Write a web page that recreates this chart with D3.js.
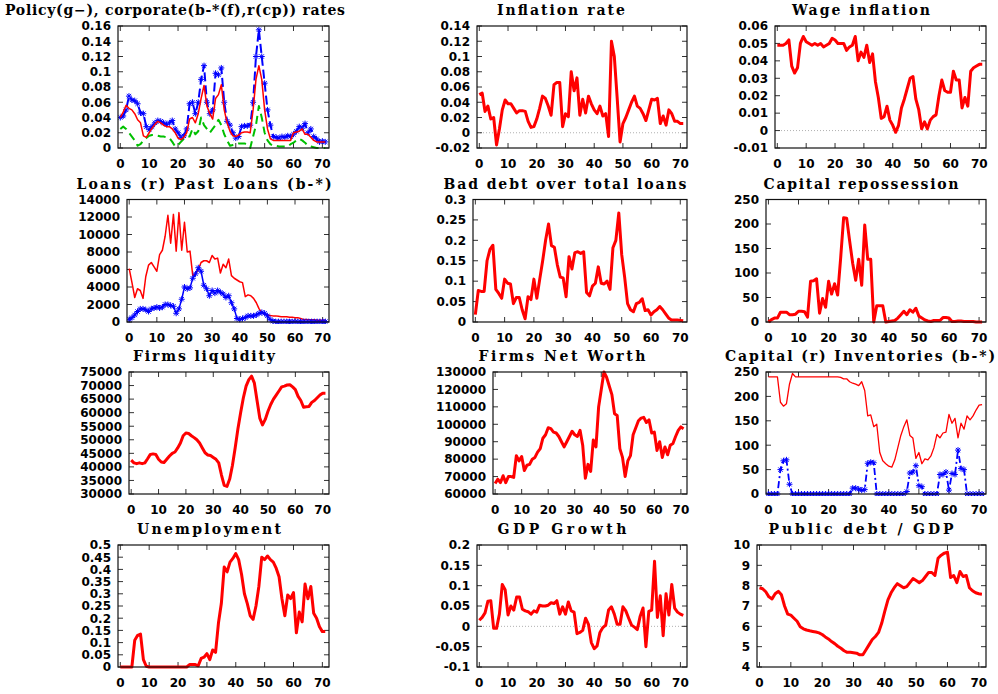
<!DOCTYPE html>
<html>
<head>
<meta charset="utf-8">
<script src="https://cdn.jsdelivr.net/npm/d3@7"></script>
<style>
  body { margin: 0; background: #fff; }
  svg { display: block; }
</style>
</head>
<body>
<div id="chart"></div>
<script>
// time steps 0..71
const steps = d3.range(72);

// panel 1: interest rates
const policyRate = [0.025,0.028,0.025,0.02,0.015,0.01,0.003,0.005,0.01,0.013,
  0.016,0.017,0.017,0.016,0.015,0.015,0.014,0.013,0.008,0.002,
  0.004,0.008,0.012,0.015,0.015,0.025,0.018,0.022,0.04,0.03,
  0.025,0.02,0.025,0.03,0.037,0.03,0.018,0.01,0.003,0.004,
  0.005,0.006,0.006,0.006,0.005,0,0.015,0.03,0.055,0.04,
  0.02,0.01,0.005,0.003,0.003,0.002,0.002,0.002,0.002,0.005,
  0.007,0.01,0.012,0.01,0.007,0.003,0.002,0.001,0,0,0,0];
const corporateRate = [0.04,0.042,0.05,0.068,0.063,0.062,0.058,0.046,0.045,0.028,
  0.024,0.028,0.033,0.036,0.035,0.033,0.031,0.033,0.036,0.025,
  0.02,0.014,0.016,0.025,0.058,0.06,0.045,0.06,0.09,0.108,
  0.06,0.045,0.05,0.098,0.096,0.105,0.06,0.035,0.03,0.02,
  0.013,0.015,0.028,0.029,0.029,0.03,0.06,0.12,0.155,0.12,
  0.085,0.05,0.03,0.015,0.014,0.013,0.015,0.014,0.016,0.015,
  0.018,0.022,0.028,0.026,0.032,0.02,0.025,0.015,0.012,0.008,0.009,0.008];
const cpRate = [0.04,0.047,0.056,0.052,0.05,0.045,0.037,0.033,0.016,0.014,
  0.02,0.026,0.031,0.035,0.033,0.03,0.028,0.028,0.025,0.02,
  0.013,0.011,0.014,0.02,0.038,0.04,0.033,0.045,0.065,0.082,
  0.055,0.045,0.038,0.065,0.07,0.083,0.05,0.033,0.022,0.016,
  0.015,0.017,0.02,0.021,0.021,0.02,0.05,0.09,0.108,0.09,
  0.05,0.025,0.012,0.01,0.01,0.01,0.01,0.01,0.01,0.01,
  0.02,0.021,0.022,0.025,0.018,0.018,0.014,0.01,0.008,0.008,0.008,0.008];

const inflation = [0.05,0.052,0.028,0.035,0.018,0.02,-0.016,0.005,0.03,0.043,
  0.038,0.038,0.032,0.026,0.029,0.029,0.028,0.015,0.007,0.008,
  0.018,0.032,0.048,0.045,0.035,0.023,0.063,0.066,0.066,0.008,
  0.025,0.021,0.08,0.055,0.072,0.023,0.044,0.026,0.048,0.038,
  0.03,0.025,0.035,0.022,0.025,-0.005,0.12,0.1,0.045,-0.012,
  0.012,0.02,0.03,0.04,0.048,0.035,0.032,0.025,0.016,0.03,
  0.044,0.043,0.045,0.012,0.022,0.01,0.03,0.025,0.015,0.015,0.012,0.012];

const wageInflation = [0.049,0.049,0.049,0.05,0.052,0.037,0.033,0.036,0.05,0.054,
  0.051,0.05,0.049,0.05,0.049,0.05,0.048,0.049,0.05,0.053,
  0.052,0.05,0.05,0.05,0.046,0.048,0.049,0.054,0.04,0.045,
  0.042,0.049,0.039,0.044,0.028,0.019,0.007,0.008,0.014,0.006,
  0.003,-0.001,0.003,0.013,0.018,0.024,0.03,0.031,0.018,0.012,
  0.001,0.005,0.001,0.006,0.008,0.009,0.02,0.029,0.023,0.022,
  0.022,0.034,0.029,0.029,0.013,0.019,0.014,0.034,0.036,0.037,0.038,0.038];

const loans = [6100,4500,2800,3800,3600,2700,5200,6500,6800,6300,
  5800,7700,8200,9800,12200,9000,12300,8100,12500,8200,
  11400,8000,8100,5300,5500,6000,6800,7000,7000,6800,
  7600,7200,7300,5600,6600,6200,7200,5300,5000,4800,
  4600,4500,2900,3100,3000,2700,2200,1500,1100,900,
  800,750,700,700,650,600,600,600,550,550,
  500,500,400,300,300,250,250,250,200,200,200,200];
const pastLoans = [300,500,800,1200,1500,1500,1400,1200,1500,1600,
  1700,1600,1700,2000,2000,1900,1800,1000,1500,2600,
  4000,3800,3900,5000,5500,6200,5800,4200,3800,3000,
  3600,3300,3600,3400,3200,2800,3000,2200,1500,400,
  300,400,500,700,700,700,800,1000,1100,1000,
  700,300,100,40,40,40,40,40,40,40,
  40,40,40,40,40,40,40,40,40,40,40,40];

const badDebt = [0.018,0.077,0.075,0.075,0.15,0.178,0.188,0.08,0.07,0.058,
  0.105,0.095,0.093,0.045,0.06,0.06,0.03,0.008,0.062,0.055,
  0.105,0.058,0.105,0.15,0.2,0.24,0.187,0.183,0.14,0.11,
  0.108,0.062,0.16,0.13,0.17,0.172,0.168,0.172,0.072,0.064,
  0.088,0.095,0.135,0.095,0.093,0.1,0.08,0.182,0.2,0.267,
  0.165,0.11,0.045,0.03,0.025,0.045,0.048,0.057,0.028,0.03,
  0.017,0.025,0.03,0.038,0.03,0.02,0.01,0.005,0.005,0.005,0.004,0.003];

const repossession = [0,5,8,8,20,20,20,15,15,16,
  22,22,21,10,83,84,88,18,48,30,
  83,57,78,55,130,213,212,165,120,85,
  128,75,198,128,128,0,33,33,33,0,
  1,2,3,8,15,22,15,25,20,28,
  12,8,4,2,1,3,3,3,9,9,
  8,1,1,2,2,1,1,1,1,0,0,0];

const liquidity = [42500,41500,41200,41500,41200,41500,43000,44600,44800,44600,
  42800,41800,41600,42800,44000,45000,45500,47000,48800,51500,
  52500,52300,51500,50800,50000,48800,47000,45200,44400,44200,
  43500,42800,41500,37000,33200,32800,35500,40500,47000,54000,
  60000,65500,69800,72200,73500,71000,64500,58000,55500,57500,
  60500,63000,65000,66500,68000,69500,69800,70200,70300,69500,
  68500,66000,64500,62000,62200,62300,63800,64500,65500,66500,67200,67200];

const netWorth = [66000,68500,66500,70500,66500,70000,70000,69500,82000,79000,
  81500,73500,76500,77000,80000,81000,84000,86000,92000,94000,
  98000,97500,95500,95000,93000,90000,87000,90000,93000,96000,
  94000,93000,96500,88000,69000,77000,73000,91000,87000,110000,
  120000,130000,127000,122000,117000,106000,105000,86000,81000,70000,
  79000,82000,94000,98000,102000,103500,104000,101000,102500,95000,
  95500,85000,90000,81000,87000,82500,88000,89000,93000,96500,98500,97500];

const capital = [240,240,240,240,188,180,185,225,247,240,
  240,240,240,240,240,240,240,240,240,240,
  240,240,240,240,239,236,236,230,227,225,
  222,230,212,160,162,138,143,85,68,62,
  57,55,70,95,120,138,152,120,115,73,
  85,62,72,70,78,95,122,115,125,127,
  163,145,155,115,145,133,160,152,160,172,182,183];
const inventories = [0,0,0,0,50,68,70,20,0,0,
  0,0,0,0,0,0,0,0,0,0,
  0,0,0,0,0,0,0,0,12,12,
  10,8,9,63,65,64,0,0,0,0,
  0,0,0,0,0,0,5,43,45,58,
  17,15,0,0,0,0,0,40,40,45,
  8,42,40,90,52,50,0,0,0,0,0,0];

const unemployment = [0,0,0,0,0,0.11,0.13,0.135,0.03,0.003,
  0,0,0,0,0,0,0,0,0,0,
  0,0,0,0,0.01,0.01,0.01,0.005,0.035,0.04,
  0.055,0.03,0.07,0.06,0.18,0.26,0.41,0.39,0.43,0.445,
  0.465,0.44,0.38,0.3,0.26,0.21,0.195,0.25,0.33,0.45,
  0.44,0.455,0.44,0.43,0.405,0.37,0.28,0.21,0.295,0.28,
  0.305,0.14,0.225,0.185,0.34,0.28,0.33,0.22,0.2,0.165,0.145,0.145];

const gdpGrowth = [0.015,0.022,0.033,0.062,0.063,-0.005,-0.005,0.03,0.103,0.09,
  0.028,0.05,0.04,0.072,0.072,0.042,0.038,0.036,0.03,0.038,
  0.035,0.052,0.05,0.05,0.052,0.058,0.056,0.063,0.03,0.048,
  0.03,0.06,0.038,0.035,-0.018,-0.015,-0.01,0.02,0.005,-0.04,
  -0.055,-0.048,-0.015,-0.003,0.003,0.04,0.048,0.03,0.005,0.005,
  0.048,0.038,0.02,0.003,-0.002,-0.008,0.025,0.045,-0.05,0.037,
  0.04,0.16,0.022,0.075,-0.023,0.08,0.028,0.103,0.045,0.035,0.03,0.027];

const publicDebt = [7.9,7.85,7.7,7.45,7.35,7.6,7.72,7.55,7.0,6.6,
  6.55,6.4,6.25,5.98,5.88,5.82,5.78,5.75,5.72,5.68,
  5.6,5.48,5.38,5.25,5.15,5.02,4.92,4.8,4.72,4.72,
  4.7,4.68,4.6,4.6,4.85,5.1,5.35,5.5,5.7,6.15,
  6.75,7.3,7.65,7.9,8.1,8.0,7.9,7.95,8.15,8.35,
  8.25,8.15,8.25,8.45,8.65,8.65,8.5,9.35,9.5,9.6,
  9.65,8.4,8.5,8.15,8.7,8.45,8.5,7.9,7.75,7.65,7.6,7.58];

const xTicks = [0, 10, 20, 30, 40, 50, 60, 70];

// layout of the 4x3 grid (gnuplot multiplot style)
const width = 998, height = 694;
const colRight = [329, 687, 986];
const rowTop = [26, 199.5, 372, 545];
const rowBottom = [148, 322, 494, 667];
const plotLeft = [118, 477, 775, 127, 473, 766, 129, 493, 766, 118, 477, 757];
const titleCenter = [175, 561, 861, 204, 565, 861, 204, 562, 860, 209, 562, 861];
const titleWidth = [340, 128, 138, 255, 243, 195, 142, 167, 270, 144, 129, 185];

const thick = { color: "#ff0000", width: 3 };

const panels = [
  { title: "Policy(g\u2212), corporate(b-*(f),r(cp)) rates", y: [0, 0.16, 0.02], series: [
      { values: policyRate, color: "#00c000", width: 2, dash: "8,5" },
      { values: corporateRate, color: "#0000ff", width: 2, dash: "9,4", marker: true },
      { values: cpRate, color: "#ff0000", width: 1.5 }] },
  { title: "Inflation rate", y: [-0.02, 0.14, 0.02], zero: true, series: [{ values: inflation, ...thick }] },
  { title: "Wage inflation", y: [-0.01, 0.06, 0.01], zero: true, series: [{ values: wageInflation, ...thick }] },
  { title: "Loans (r) Past Loans (b-*)", y: [0, 14000, 2000], series: [
      { values: loans, color: "#ff0000", width: 1.5 },
      { values: pastLoans, color: "#0000ff", width: 1.5, marker: true }] },
  { title: "Bad debt over total loans", y: [0, 0.3, 0.05], series: [{ values: badDebt, ...thick }] },
  { title: "Capital repossession", y: [0, 250, 50], series: [{ values: repossession, ...thick }] },
  { title: "Firms liquidity", y: [30000, 75000, 5000], series: [{ values: liquidity, ...thick }] },
  { title: "Firms Net Worth", y: [60000, 130000, 10000], series: [{ values: netWorth, ...thick }] },
  { title: "Capital (r) Inventories (b-*)", y: [0, 250, 50], series: [
      { values: capital, color: "#ff0000", width: 1.3 },
      { values: inventories, color: "#0000ff", width: 1.8, dash: "7,3,2,3", marker: true }] },
  { title: "Unemployment", y: [0, 0.5, 0.05], series: [{ values: unemployment, ...thick }] },
  { title: "GDP Growth", y: [-0.1, 0.2, 0.05], zero: true, series: [{ values: gdpGrowth, ...thick }] },
  { title: "Public debt / GDP", y: [4, 10, 1], series: [{ values: publicDebt, ...thick }] }
];

const fmt = v => String(+v.toFixed(6));
const tickFont = "'DejaVu Sans', sans-serif";
const titleFont = "'DejaVu Serif', serif";

const svg = d3.select("#chart").append("svg")
  .attr("width", width)
  .attr("height", height)
  .attr("viewBox", `0 0 ${width} ${height}`);

// star point like gnuplot pt 3
const star = (s) => {
  const d = s * 0.72;
  return `M${-s},0H${s}M0,${-s}V${s}M${-d},${-d}L${d},${d}M${-d},${d}L${d},${-d}`;
};

panels.forEach((p, i) => {
  const col = i % 3, row = Math.floor(i / 3);
  const left = plotLeft[i], right = colRight[col];
  const top = rowTop[row], bottom = rowBottom[row];

  const x = d3.scaleLinear().domain([-0.8, 72.3]).range([left, right]);
  const y = d3.scaleLinear().domain([p.y[0], p.y[1]]).range([bottom, top]);
  const yTicks = d3.range(p.y[0], p.y[1] + p.y[2] / 2, p.y[2]);

  const g = svg.append("g");

  // zero line
  if (p.zero) {
    g.append("line")
      .attr("x1", left).attr("x2", right)
      .attr("y1", y(0)).attr("y2", y(0))
      .attr("stroke", "#b0b0b0")
      .attr("stroke-width", 1)
      .attr("stroke-dasharray", "1,2");
  }

  // ticks on all four sides, pointing inwards
  const tickLen = 5;
  xTicks.forEach(t => {
    g.append("line").attr("x1", x(t)).attr("x2", x(t))
      .attr("y1", bottom).attr("y2", bottom - tickLen)
      .attr("stroke", "#333").attr("stroke-width", 1);
    g.append("line").attr("x1", x(t)).attr("x2", x(t))
      .attr("y1", top).attr("y2", top + tickLen)
      .attr("stroke", "#333").attr("stroke-width", 1);
    g.append("text")
      .attr("x", x(t)).attr("y", bottom + 20)
      .attr("text-anchor", "middle")
      .style("font-family", tickFont).style("font-weight", "bold")
      .style("font-size", "12px")
      .text(t);
  });
  yTicks.forEach(v => {
    g.append("line").attr("x1", left).attr("x2", left + tickLen)
      .attr("y1", y(v)).attr("y2", y(v))
      .attr("stroke", "#333").attr("stroke-width", 1);
    g.append("line").attr("x1", right).attr("x2", right - tickLen)
      .attr("y1", y(v)).attr("y2", y(v))
      .attr("stroke", "#333").attr("stroke-width", 1);
    g.append("text")
      .attr("x", left - 7).attr("y", y(v))
      .attr("dy", "0.36em")
      .attr("text-anchor", "end")
      .style("font-family", tickFont).style("font-weight", "bold")
      .style("font-size", "12px")
      .text(fmt(v));
  });

  // series, clipped to the frame
  const clipId = `clip${i}`;
  g.append("clipPath").attr("id", clipId)
    .append("rect")
    .attr("x", left).attr("y", top - 2)
    .attr("width", right - left).attr("height", bottom - top + 4);

  const plot = g.append("g").attr("clip-path", `url(#${clipId})`);
  p.series.forEach(s => {
    const line = d3.line()
      .x((d, k) => x(steps[k]))
      .y(d => y(d));
    plot.append("path")
      .datum(s.values)
      .attr("fill", "none")
      .attr("stroke", s.color)
      .attr("stroke-width", s.width)
      .attr("stroke-linejoin", "round")
      .attr("stroke-dasharray", s.dash || null)
      .attr("d", line);
    if (s.marker) {
      plot.selectAll(null)
        .data(s.values)
        .join("path")
        .attr("transform", (d, k) => `translate(${x(steps[k])},${y(d)})`)
        .attr("d", star(3))
        .attr("fill", "none")
        .attr("stroke", s.color)
        .attr("stroke-width", 1);
    }
  });

  // frame
  g.append("rect")
    .attr("x", left).attr("y", top)
    .attr("width", right - left).attr("height", bottom - top)
    .attr("fill", "none")
    .attr("stroke", "#111")
    .attr("stroke-width", 1.2);

  // title
  g.append("text")
    .attr("x", titleCenter[i])
    .attr("y", top - 11)
    .attr("text-anchor", "middle")
    .attr("textLength", titleWidth[i])
    .attr("lengthAdjust", "spacing")
    .style("font-family", titleFont)
    .style("font-weight", "bold")
    .style("font-size", "14px")
    .text(p.title);
});
</script>
</body>
</html>
